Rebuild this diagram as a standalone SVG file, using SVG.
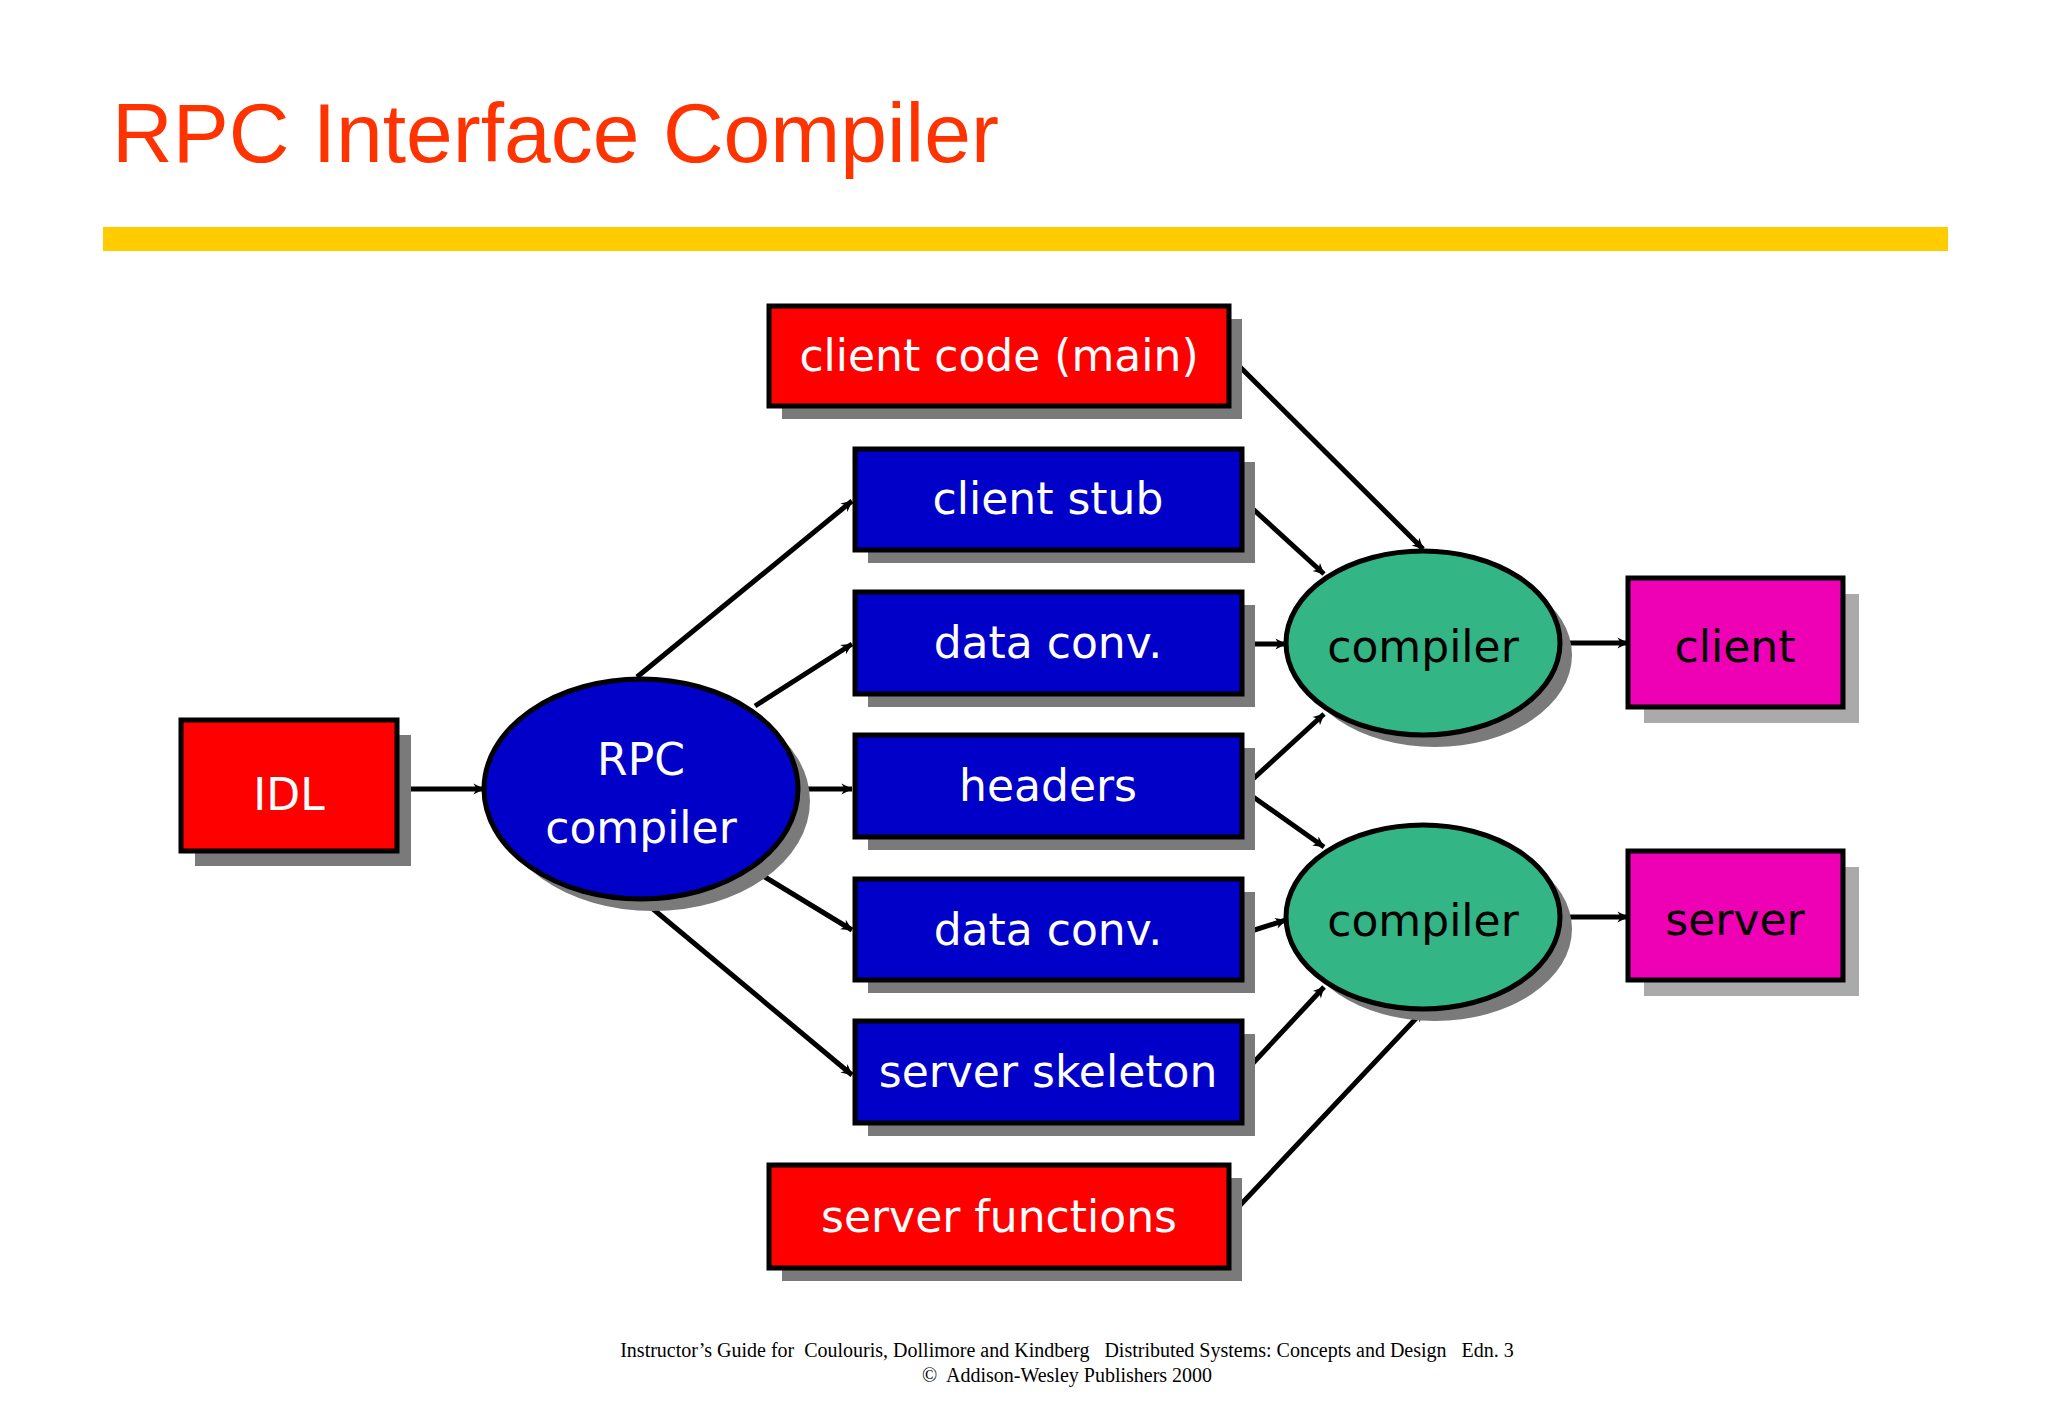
<svg xmlns="http://www.w3.org/2000/svg" width="2048" height="1418" viewBox="0 0 2048 1418">
<style>
.box{stroke:#000;stroke-width:5}
.sh{fill:#7a7a7a}
.red{fill:#ff0000}.blue{fill:#0000c8}.mag{fill:#ee00b4}.grn{fill:#33b585}
.lbl{font-family:"DejaVu Sans",Verdana,sans-serif;font-size:44px;fill:#fff;text-anchor:middle}
.dk{fill:#000}
.c line{stroke:#000;stroke-width:5;marker-end:url(#ah)}
.foot{font-family:"Liberation Serif",serif;font-size:20px;fill:#000;text-anchor:middle}
</style>
<defs>
<marker id="ah" viewBox="0 0 10 10" refX="9" refY="5" markerWidth="5" markerHeight="5" orient="auto" markerUnits="userSpaceOnUse" overflow="visible">
<path d="M0,0 L10,5 L0,10 L3,5 z" fill="#000" transform="scale(2.2) translate(-5.5,-2.7)"/>
</marker>
</defs>
<rect width="2048" height="1418" fill="#fff"/>
<text x="112" y="162" font-family="Liberation Sans,Arial,sans-serif" font-size="84" fill="#ff3300">RPC Interface Compiler</text>
<rect x="103" y="227" width="1845" height="24" fill="#ffcc00"/>
<g class="c">
<line x1="397" y1="789" x2="484" y2="789"/>
<line x1="637" y1="677" x2="852" y2="501"/>
<line x1="755" y1="706" x2="852" y2="644"/>
<line x1="798" y1="789" x2="852" y2="789"/>
<line x1="755" y1="871" x2="852" y2="930"/>
<line x1="641" y1="899" x2="852" y2="1075"/>
<line x1="1229" y1="356" x2="1423" y2="549"/>
<line x1="1242" y1="499" x2="1324" y2="574"/>
<line x1="1242" y1="644" x2="1286" y2="644"/>
<line x1="1242" y1="789" x2="1324" y2="714"/>
<line x1="1242" y1="789" x2="1324" y2="847"/>
<line x1="1242" y1="934" x2="1286" y2="920"/>
<line x1="1242" y1="1075" x2="1324" y2="987"/>
<line x1="1229" y1="1217" x2="1423" y2="1011"/>
<line x1="1560" y1="643" x2="1628" y2="643"/>
<line x1="1560" y1="917" x2="1628" y2="917"/>
</g>
<g id="idl"><rect class="sh" x="195" y="735" width="216" height="131" fill="#999"/><rect class="box red" x="181" y="720" width="216" height="131"/><text class="lbl" x="289" y="810" font-size="62">IDL</text></g>
<g id="rpc"><ellipse class="sh" cx="653" cy="801" rx="157" ry="110"/><ellipse class="box blue" cx="641" cy="789" rx="157" ry="110"/><text class="lbl" x="641" y="775" font-size="54">RPC</text><text class="lbl" x="641" y="843" font-size="54">compiler</text></g>
<g id="clientcode"><rect class="sh" x="782" y="319" width="460" height="100"/><rect class="box red" x="769" y="306" width="460" height="100"/><text class="lbl" x="999" y="371">client code (main)</text></g>
<g id="clientstub"><rect class="sh" x="868" y="462" width="387" height="101"/><rect class="box blue" x="855" y="449" width="387" height="101"/><text class="lbl" x="1048" y="514">client stub</text></g>
<g id="dataconv1"><rect class="sh" x="868" y="605" width="387" height="102"/><rect class="box blue" x="855" y="592" width="387" height="102"/><text class="lbl" x="1048" y="658">data conv.</text></g>
<g id="headers"><rect class="sh" x="868" y="748" width="387" height="102"/><rect class="box blue" x="855" y="735" width="387" height="102"/><text class="lbl" x="1048" y="801">headers</text></g>
<g id="dataconv2"><rect class="sh" x="868" y="892" width="387" height="101"/><rect class="box blue" x="855" y="879" width="387" height="101"/><text class="lbl" x="1048" y="945">data conv.</text></g>
<g id="skeleton"><rect class="sh" x="868" y="1034" width="387" height="102"/><rect class="box blue" x="855" y="1021" width="387" height="102"/><text class="lbl" x="1048" y="1087">server skeleton</text></g>
<g id="serverfunc"><rect class="sh" x="782" y="1178" width="460" height="103"/><rect class="box red" x="769" y="1165" width="460" height="103"/><text class="lbl" x="999" y="1232">server functions</text></g>
<g id="compiler1"><ellipse class="sh" cx="1435" cy="655" rx="137" ry="92"/><ellipse class="box grn" cx="1423" cy="643" rx="137" ry="92"/><text class="lbl dk" x="1423" y="662" font-size="54">compiler</text></g>
<g id="compiler2"><ellipse class="sh" cx="1435" cy="929" rx="137" ry="92"/><ellipse class="box grn" cx="1423" cy="917" rx="137" ry="92"/><text class="lbl dk" x="1423" y="936" font-size="54">compiler</text></g>
<g id="client"><rect x="1644" y="594" width="215" height="129" fill="#aaa"/><rect class="box mag" x="1628" y="578" width="215" height="129"/><text class="lbl dk" x="1735" y="662" font-size="54">client</text></g>
<g id="server"><rect x="1644" y="867" width="215" height="129" fill="#aaa"/><rect class="box mag" x="1628" y="851" width="215" height="129"/><text class="lbl dk" x="1735" y="935" font-size="54">server</text></g>
<text class="foot" x="1067" y="1357" xml:space="preserve">Instructor’s Guide for  Coulouris, Dollimore and Kindberg   Distributed Systems: Concepts and Design   Edn. 3</text>
<text class="foot" x="1067" y="1382" xml:space="preserve">©  Addison-Wesley Publishers 2000</text>
</svg>
